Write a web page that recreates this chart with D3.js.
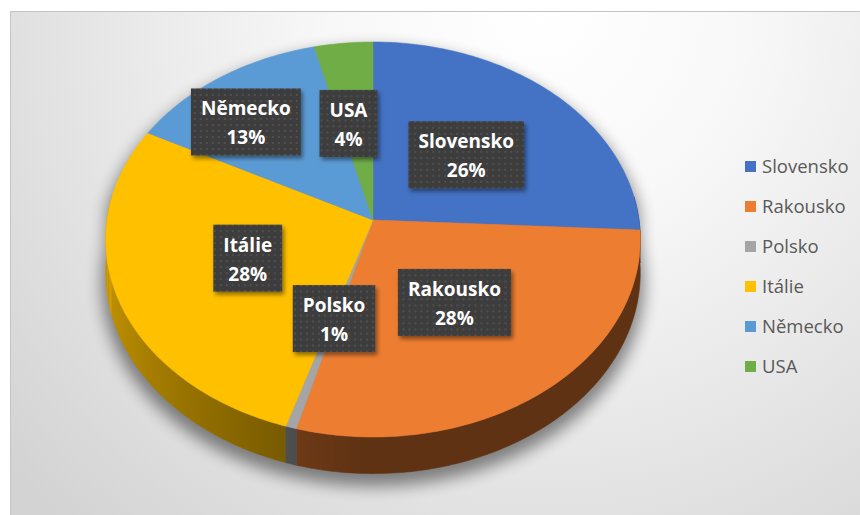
<!DOCTYPE html>
<html>
<head>
<meta charset="utf-8">
<script src="https://cdn.jsdelivr.net/npm/d3@7"></script>
<style>
  body { margin: 0; background: #fff; }
  svg { display: block; }
</style>
</head>
<body>
<div class="pie-plot"></div>
<script>
// podíly zemí (v %)
const categories = ["Slovensko", "Rakousko", "Polsko", "Itálie", "Německo", "USA"];
const shares = [25.8, 28.4, 0.6, 27.9, 13.4, 3.9];
const colors = ["#4472C4", "#ED7D31", "#A5A5A5", "#FFC000", "#5B9BD5", "#70AD47"];

const width = 860;
const height = 515;

// 3D pie geometry
const cx = 373, cy = 220;
const rx = 266, ry = 195.6;
const persp = 0.0987;
const depth = 33;

// small manual nudges for labels excel moved
const labelNudge = { "Německo": [-48, -24], "USA": [-9, -4] };

function proj(theta, f, drop) {
  let u = Math.sin(theta) * f;
  let v = -Math.cos(theta) * f;
  let s = 1 / (1 - persp * v);
  return [cx + rx * u * s, cy + ry * v * s + (drop ? depth * s : 0)];
}

function shade(theta) {
  return Math.min(0.6, 0.46 + 0.3 * Math.cos(theta - 2 * Math.PI / 3));
}

const svg = d3.select('.pie-plot')
  .append('svg')
  .attr('width', width)
  .attr('height', height);

const defs = svg.append('defs');

const bg = defs.append('radialGradient')
  .attr('id', 'bg')
  .attr('gradientUnits', 'userSpaceOnUse')
  .attr('cx', 540).attr('cy', 10).attr('r', 700);
bg.append('stop').attr('offset', 0).attr('stop-color', '#ffffff');
bg.append('stop').attr('offset', 0.3).attr('stop-color', '#f8f8f8');
bg.append('stop').attr('offset', 1).attr('stop-color', '#d3d3d3');

const pat = defs.append('pattern')
  .attr('id', 'dots')
  .attr('patternUnits', 'userSpaceOnUse')
  .attr('width', 6).attr('height', 6);
pat.append('rect').attr('width', 6).attr('height', 6).attr('fill', '#3d3d3d');
pat.append('rect').attr('x', 2).attr('y', 2).attr('width', 2).attr('height', 2).attr('fill', '#4f4f4f');

const shadow = defs.append('filter').attr('id', 'boxshadow')
  .attr('x', '-20%').attr('y', '-20%').attr('width', '150%').attr('height', '150%');
shadow.append('feDropShadow')
  .attr('dx', 2).attr('dy', 3).attr('stdDeviation', 2)
  .attr('flood-color', '#000').attr('flood-opacity', 0.45);

const blur = defs.append('filter').attr('id', 'pieshadow')
  .attr('x', '-20%').attr('y', '-20%').attr('width', '140%').attr('height', '140%');
blur.append('feGaussianBlur').attr('stdDeviation', 8);

// chart area
svg.append('rect')
  .attr('x', 10.5).attr('y', 11.5)
  .attr('width', 880).attr('height', 540)
  .attr('fill', 'url(#bg)')
  .attr('stroke', '#c4c4c4');

const pie = d3.pie().sort(null).value(d => d.value);
const arcs = pie(categories.map((c, i) => ({ name: c, value: shares[i], color: colors[i] })));

const line = d3.line();
const step = Math.PI / 180;

// outline of the whole pie (for the shadow)
let outline = [];
for (let t = 0; t <= 360; t += 2) {
  let th = t * Math.PI / 180;
  let cosv = -Math.cos(th);
  outline.push(cosv > 0.05 || Math.abs(Math.sin(th)) > 0.995 ? proj(th, 1, true) : proj(th, 1, false));
}
svg.append('path')
  .attr('d', line(outline) + 'Z')
  .attr('fill', '#000')
  .attr('opacity', 0.45)
  .attr('transform', 'translate(0,9) scale(1.015) translate(-5.6,-3.3)')
  .attr('filter', 'url(#pieshadow)');

// sides: one path per slice, horizontal gradient for the shading
const lo = Math.PI / 2 - 0.12, hi = 3 * Math.PI / 2 + 0.12;
let sides = arcs.map((a, i) => {
  let s = Math.max(a.startAngle, lo), e = Math.min(a.endAngle, hi);
  if (e <= s) return null;
  let n = Math.max(2, Math.ceil((e - s) / step));
  let top = [], bot = [], stops = [];
  for (let j = 0; j <= n; j++) {
    let t = s + (e - s) * j / n;
    top.push(proj(t, 1, false));
    bot.push(proj(t, 1, true));
    stops.push({ x: proj(t, 1, false)[0], c: d3.interpolateRgb(a.data.color, '#000')(shade(t)) });
  }
  return { i: i, pts: top.concat(bot.reverse()), stops: stops, y: proj((s + e) / 2, 1, false)[1] };
}).filter(d => d);

sides.forEach(d => {
  let xs = d.stops.map(p => p.x);
  let x0 = d3.min(xs), x1 = d3.max(xs);
  let g = defs.append('linearGradient')
    .attr('id', 'side' + d.i)
    .attr('gradientUnits', 'userSpaceOnUse')
    .attr('x1', x0).attr('x2', x1 === x0 ? x0 + 1 : x1)
    .attr('y1', 0).attr('y2', 0);
  d.stops.slice().sort((p, q) => p.x - q.x).forEach(p => {
    g.append('stop')
      .attr('offset', x1 === x0 ? 0 : (p.x - x0) / (x1 - x0))
      .attr('stop-color', p.c);
  });
});

svg.append('g').selectAll('path')
  .data(sides.sort((p, q) => p.y - q.y))
  .enter()
  .append('path')
  .attr('d', d => line(d.pts) + 'Z')
  .attr('fill', d => 'url(#side' + d.i + ')')
  .attr('stroke', d => 'url(#side' + d.i + ')')
  .attr('stroke-width', 0.5);

// top surface
svg.append('g').selectAll('path')
  .data(arcs)
  .enter()
  .append('path')
  .attr('d', function(d) {
    let pts = [[cx, cy]];
    let n = Math.max(2, Math.ceil((d.endAngle - d.startAngle) / step));
    for (let i = 0; i <= n; i++) {
      pts.push(proj(d.startAngle + (d.endAngle - d.startAngle) * i / n, 1, false));
    }
    return line(pts) + 'Z';
  })
  .attr('fill', d => d.data.color)
  .attr('stroke', d => d.data.color)
  .attr('stroke-width', 0.5);

// data labels
const labels = svg.append('g').selectAll('g')
  .data(arcs)
  .enter()
  .append('g')
  .attr('transform', function(d) {
    let p = proj((d.startAngle + d.endAngle) / 2, 0.5, false);
    let n = labelNudge[d.data.name] || [0, 0];
    return 'translate(' + (p[0] + n[0]) + ',' + (p[1] + n[1]) + ')';
  });

labels.append('rect').attr('class', 'box');

labels.append('text')
  .attr('class', 'name')
  .attr('text-anchor', 'middle')
  .attr('y', -6.5)
  .attr('font-family', 'Open Sans')
  .attr('font-weight', 'bold')
  .attr('font-size', '19px')
  .attr('fill', 'white')
  .text(d => d.data.name);

labels.append('text')
  .attr('text-anchor', 'middle')
  .attr('y', 22.5)
  .attr('font-family', 'Open Sans')
  .attr('font-weight', 'bold')
  .attr('font-size', '19px')
  .attr('fill', 'white')
  .text(d => Math.round(d.data.value) + '%');

labels.each(function() {
  let g = d3.select(this);
  let w = g.select('.name').node().getComputedTextLength() + 20;
  g.select('.box')
    .attr('x', -w / 2).attr('y', -33.5)
    .attr('width', w).attr('height', 67)
    .attr('fill', 'url(#dots)')
    .attr('filter', 'url(#boxshadow)');
});

// legend
const legend = svg.append('g').selectAll('g')
  .data(categories)
  .enter()
  .append('g')
  .attr('transform', (d, i) => 'translate(745,' + (166.5 + i * 40) + ')');

legend.append('rect')
  .attr('x', 0).attr('y', -5.5)
  .attr('width', 11).attr('height', 11)
  .attr('fill', (d, i) => colors[i]);

legend.append('text')
  .attr('x', 17)
  .attr('dy', '0.36em')
  .attr('font-family', 'Open Sans')
  .attr('font-size', '18.5px')
  .attr('fill', '#595959')
  .text(d => d);
</script>
</body>
</html>
